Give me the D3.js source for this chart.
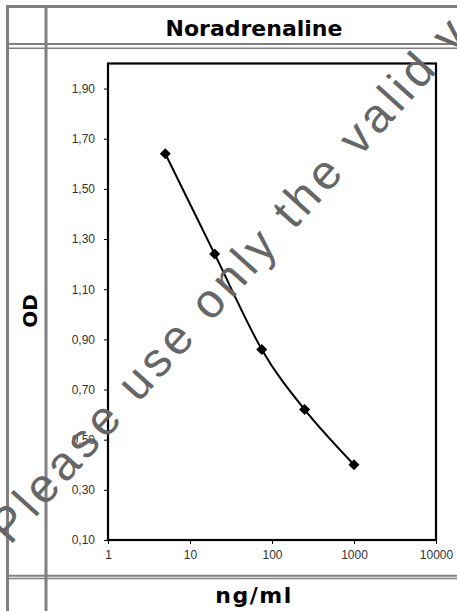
<!DOCTYPE html>
<html><head><meta charset="utf-8">
<script src="https://cdn.jsdelivr.net/npm/d3@7"></script>
<style>body{margin:0;background:#fff;overflow:hidden}</style>
</head><body><svg id="c" width="457" height="611"></svg>
<script>
const title = "Noradrenaline";
const xLabel = "ng/ml";
const yLabel = "OD";
const concentrations = [5, 20, 75, 250, 1000];
const odValues = [1.64, 1.24, 0.86, 0.62, 0.40];
const xTicks = [1, 10, 100, 1000, 10000];
const yTicks = [0.10, 0.30, 0.50, 0.70, 0.90, 1.10, 1.30, 1.50, 1.70, 1.90];
const watermark = "Please use only the valid version";

const svg = d3.select("#c");
const W = 457, H = 611;
const gray = "#808080";

// table grid
const grid = svg.append("g").attr("fill", "none").attr("stroke", gray);
grid.append("line").attr("x1", 6).attr("x2", W).attr("y1", 6.5).attr("y2", 6.5).attr("stroke-width", 3);
grid.append("line").attr("x1", 7.5).attr("x2", 7.5).attr("y1", 5).attr("y2", H).attr("stroke-width", 3);
grid.append("line").attr("x1", 46).attr("x2", 46).attr("y1", 5).attr("y2", H).attr("stroke-width", 3);
[[44, 2], [48.3, 1.6], [575.8, 2], [578.5, 1.6]].forEach(([y, w]) => {
  grid.append("line").attr("x1", 7).attr("x2", W).attr("y1", y).attr("y2", y).attr("stroke-width", w);
});

// scales
const x = d3.scaleLog().domain([1, 10000]).range([108, 436]);
const y = d3.scaleLinear().domain([0.1, 2.0]).range([540, 63.5]);

const locale = d3.formatLocale({decimal: ",", thousands: ".", grouping: [3], currency: ["", ""]});
const yFmt = locale.format(".2f");

const yAxis = svg.append("g").attr("transform", `translate(${x.range()[0]},0)`)
  .call(d3.axisLeft(y).tickValues(yTicks).tickFormat(yFmt).tickSize(4).tickPadding(9));
const xAxis = svg.append("g").attr("transform", `translate(0,${y.range()[0]})`)
  .call(d3.axisBottom(x).tickValues(xTicks).tickFormat(d3.format("d")).tickSize(4).tickPadding(6));
[xAxis, yAxis].forEach(a => {
  a.select(".domain").remove();
  a.selectAll("text").attr("font-family", "Liberation Sans, Arial, sans-serif").attr("font-size", 12).attr("fill", "#333");
  a.selectAll(".tick line").attr("stroke", "#000");
});

// plot frame
svg.append("rect").attr("x", x.range()[0]).attr("y", y.range()[1])
  .attr("width", x.range()[1] - x.range()[0]).attr("height", y.range()[0] - y.range()[1])
  .attr("fill", "none").attr("stroke", "#000").attr("stroke-width", 2.2);

// data
const pts = concentrations.map((c, i) => [c, odValues[i]]);
const line = d3.line().x(d => x(d[0])).y(d => y(d[1])).curve(d3.curveCatmullRom.alpha(0));
svg.append("path").datum(pts).attr("d", line).attr("fill", "none").attr("stroke", "#000").attr("stroke-width", 2);
const sym = d3.symbol().type(d3.symbolSquare).size(60);
svg.selectAll(".pt").data(pts).join("path").attr("class", "pt")
  .attr("transform", d => `translate(${x(d[0])},${y(d[1])}) rotate(45)`)
  .attr("d", sym).attr("fill", "#000");

// titles
svg.append("text").attr("x", 254).attr("y", 36).attr("text-anchor", "middle")
  .attr("font-family", "DejaVu Sans, Verdana, sans-serif").attr("font-weight", "bold").attr("font-size", 22)
  .text(title);
svg.append("text").attr("x", 254).attr("y", 603).attr("text-anchor", "middle")
  .attr("font-family", "DejaVu Sans, Verdana, sans-serif").attr("font-weight", "bold").attr("font-size", 22)
  .attr("letter-spacing", 1.5)
  .text(xLabel);
svg.append("text").attr("transform", "translate(37,311) rotate(-90)").attr("text-anchor", "middle")
  .attr("font-family", "DejaVu Sans, Verdana, sans-serif").attr("font-weight", "bold").attr("font-size", 20)
  .text(yLabel);

// watermark
svg.append("text").attr("transform", "translate(10,546) rotate(-48)")
  .attr("font-family", "Liberation Sans, Arial, sans-serif").attr("font-size", 48)
  .attr("letter-spacing", 4.5)
  .attr("fill", "#666").text(watermark);
</script></body></html>
